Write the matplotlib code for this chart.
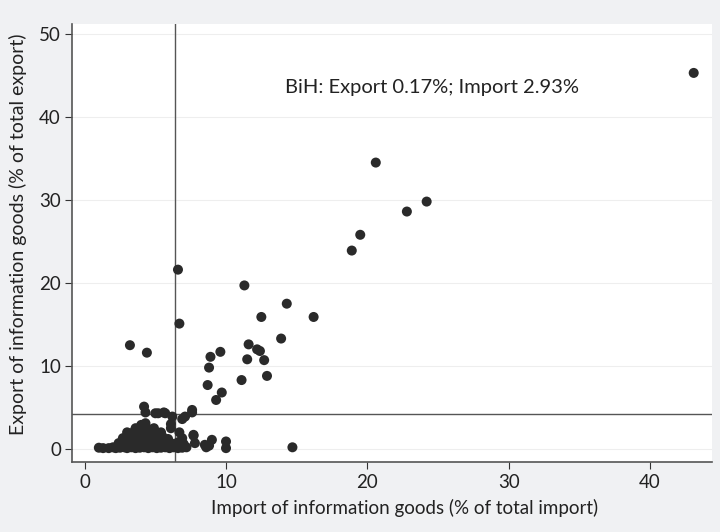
import numpy as np
import matplotlib
matplotlib.use("Agg")
import matplotlib.pyplot as plt

plt.rcParams['font.family'] = ['Lato', 'DejaVu Sans']

# import share (% of total import) / export share (% of total export)
imp_hi = [43.1, 20.6, 24.2, 22.8, 19.5, 18.9, 14.3, 12.5, 16.2, 13.9, 12.2, 12.4,
          12.7, 12.9, 11.6, 6.6, 11.3, 6.7, 3.2, 4.4, 9.6, 8.9, 11.5, 8.8, 11.1,
          8.7, 9.7, 9.3, 14.7]
exp_hi = [45.3, 34.5, 29.8, 28.6, 25.8, 23.9, 17.5, 15.9, 15.9, 13.3, 12.0, 11.8,
          10.7, 8.8, 12.6, 21.6, 19.7, 15.1, 12.5, 11.6, 11.7, 11.1, 10.8, 9.8, 8.3,
          7.7, 6.8, 5.9, 0.2]

imp_lo = [1.0, 1.3, 1.7, 2.0, 2.2, 2.5, 2.8, 3.0, 3.3, 3.6, 3.9, 4.2, 4.5, 4.8,
          5.1, 5.4, 5.7, 6.0, 6.3, 6.6, 6.9, 7.2,
          2.4, 2.9, 3.4, 3.8, 4.3, 4.7, 5.2, 5.6, 6.1, 6.6, 7.0,
          2.7, 3.2, 3.6, 4.1, 4.5, 5.0, 5.5, 5.9, 6.9, 7.7,
          3.0, 3.5, 3.9, 4.4, 4.8, 5.4, 6.7,
          3.6, 4.0, 4.5, 4.9, 6.1,
          4.0, 4.3, 6.1,
          6.2, 6.9, 7.1, 7.6, 7.6,
          4.2, 4.3, 5.0, 5.2, 5.7, 5.6,
          8.5, 9.0, 10.0, 10.0, 7.7, 7.8, 8.6, 8.8]
exp_lo = [0.15, 0.1, 0.1, 0.2, 0.1, 0.15, 0.2, 0.1, 0.2, 0.1, 0.15, 0.2, 0.1, 0.2,
          0.1, 0.15, 0.2, 0.1, 0.2, 0.1, 0.15, 0.2,
          0.7, 0.8, 0.6, 0.9, 0.7, 0.8, 0.6, 0.9, 0.7, 0.8, 0.6,
          1.3, 1.5, 1.2, 1.6, 1.4, 1.3, 1.5, 1.2, 1.3, 1.6,
          2.0, 2.1, 1.9, 2.2, 2.0, 2.0, 2.0,
          2.5, 2.6, 2.4, 2.5, 2.5,
          2.9, 3.1, 3.0,
          3.9, 3.6, 3.9, 4.4, 4.7,
          5.1, 4.4, 4.3, 4.3, 4.3, 4.4,
          0.5, 1.1, 0.9, 0.1, 1.7, 0.7, 0.2, 0.4]

imp = np.array(imp_hi + imp_lo)
exp_ = np.array(exp_hi + exp_lo)

mean_imp = 6.4
mean_exp = 4.2
note = "BiH: Export 0.17%; Import 2.93%"

bg = '#f0f1f3'
fig = plt.figure(figsize=(7.2, 5.32), dpi=100, facecolor=bg)
ax = fig.add_axes([0.1, 0.1316, 0.889, 0.8234])
ax.set_facecolor('white')

ax.set_xlim(-0.9, 44.4)
ax.set_ylim(-1.57, 51.2)

for yv in range(0, 60, 10):
    ax.axhline(yv, color='#eeeeee', lw=0.8, zorder=0)

ax.axvline(mean_imp, color='#555555', lw=1.0, zorder=1)
ax.axhline(mean_exp, color='#555555', lw=1.0, zorder=1)

ax.scatter(imp, exp_, s=52, color='#2a2a2a', edgecolors='none', zorder=3)

ax.text(14.2, 43.6, note, fontsize=14.5, color='#222222', va='center', ha='left')

ax.set_xticks([0, 10, 20, 30, 40])
ax.set_yticks([0, 10, 20, 30, 40, 50])
ax.tick_params(axis='both', direction='out', length=5, width=0.8, color='#333333',
               labelsize=13.5, labelcolor='#222222')
ax.tick_params(axis='y', pad=3)
for s in ['top', 'right']:
    ax.spines[s].set_visible(False)
for s in ['left', 'bottom']:
    ax.spines[s].set_color('#555555')
    ax.spines[s].set_linewidth(1.2)

ax.set_xlabel('Import of information goods (% of total import)', fontsize=13.5,
              color='#222222')
ax.set_ylabel('Export of information goods (% of total export)', fontsize=14,
              color='#222222')
ax.xaxis.set_label_coords(0.52, -0.085)
ax.yaxis.set_label_coords(-0.07, 0.52)

fig.savefig('out.png', dpi=100, facecolor=bg)
